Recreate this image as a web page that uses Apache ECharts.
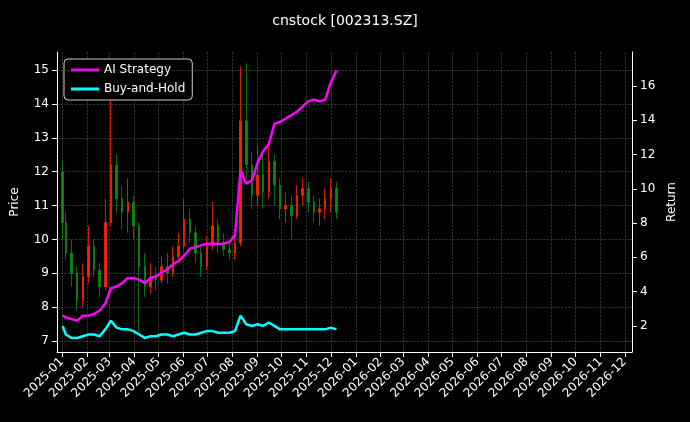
<!DOCTYPE html>
<html>
<head>
<meta charset="utf-8">
<script src="https://cdn.jsdelivr.net/npm/echarts@6/dist/echarts.min.js"></script>
<style>html,body{margin:0;background:#000;}#chart{width:690px;height:422px;}</style>
</head>
<body>
<div id="chart"></div>
<script>
var dates = ['2025-01-02','2025-01-06','2025-01-13','2025-01-20','2025-01-27',
    '2025-02-03','2025-02-10','2025-02-17','2025-02-24',
    '2025-03-03','2025-03-10','2025-03-17','2025-03-24','2025-03-31',
    '2025-04-07','2025-04-14','2025-04-21','2025-04-28',
    '2025-05-05','2025-05-12','2025-05-19','2025-05-26',
    '2025-06-02','2025-06-09','2025-06-16','2025-06-23','2025-06-30',
    '2025-07-07','2025-07-14','2025-07-21','2025-07-28',
    '2025-08-04','2025-08-11','2025-08-18','2025-08-25',
    '2025-09-01','2025-09-08','2025-09-15','2025-09-22','2025-09-29',
    '2025-10-06','2025-10-13','2025-10-20','2025-10-27',
    '2025-11-03','2025-11-10','2025-11-17','2025-11-24',
    '2025-12-01','2025-12-08'];
var openP  = [12.0,10.5,9.6,9.0,8.2, 8.9,9.8,9.1,8.6, 10.5,12.2,11.2,10.8,11.1, 10.4,9.2,8.6,8.9, 8.8,9.2,9.0,9.5, 9.8,10.6,10.2,9.6,9.2, 9.8,10.4,9.9,9.7, 9.6,9.9,13.5,12.2, 11.3,11.9,11.4,12.3,11.6, 10.9,11.0,10.7,11.3, 11.5,11.1,10.8,10.9, 11.2,11.5];
var closeP = [10.5,9.6,9.0,8.2,8.9, 9.8,9.1,8.6,10.5, 12.2,11.2,10.8,11.1,10.4, 9.2,8.6,8.9,8.8, 9.2,9.0,9.5,9.8, 10.6,10.2,9.6,9.2,9.8, 10.4,9.9,9.7,9.6, 9.9,13.5,12.2,11.3, 11.9,11.4,12.3,11.6,10.9, 11.0,10.7,11.3,11.5, 11.1,10.8,10.9,11.2, 11.5,10.8];
var lowP   = [10.0,9.4,8.6,7.9,8.0, 8.7,8.9,8.3,8.5, 10.4,10.8,10.3,10.2,10.0, 7.3,8.3,8.4,8.5, 8.7,8.7,8.9,9.3, 9.7,9.9,9.3,8.9,9.1, 9.7,9.6,9.5,9.4, 9.4,9.8,11.8,10.9, 11.0,10.9,11.2,11.0,10.6, 10.5,10.0,10.6,11.0, 10.8,10.5,10.4,10.6, 10.8,10.6];
var highP  = [12.3,10.8,10.0,9.2,9.3, 10.4,10.0,9.3,11.2, 14.1,12.5,11.6,11.8,11.3, 10.5,9.6,9.3,9.2, 9.5,9.6,9.8,10.2, 11.2,10.9,10.4,9.8,10.1, 11.1,10.6,10.2,9.9, 10.2,15.1,15.2,12.6, 12.8,12.5,12.9,12.5,11.8, 11.4,11.3,11.6,11.8, 11.7,11.3,11.2,11.5, 11.8,11.7];
var aiReturn = [2.6,2.5,2.4,2.3,2.6, 2.6,2.7,2.9,3.3, 4.2,4.3,4.5,4.8,4.8, 4.7,4.5,4.8,4.9, 5.1,5.3,5.6,5.8, 6.1,6.5,6.6,6.7,6.8, 6.8,6.8,6.8,6.9, 7.3,11.1,10.3,10.5, 11.5,12.2,12.6,13.8,13.9, 14.1,14.3,14.5,14.8, 15.1,15.2,15.1,15.2, 16.2,16.9];
var bhReturn = [2.0,1.5,1.3,1.3,1.4, 1.5,1.5,1.4,1.8, 2.3,1.9,1.8,1.8,1.7, 1.5,1.3,1.4,1.4, 1.5,1.5,1.4,1.5, 1.6,1.5,1.5,1.6,1.7, 1.7,1.6,1.6,1.6, 1.7,2.6,2.1,2.0, 2.1,2.0,2.2,2.0,1.8, 1.8,1.8,1.8,1.8, 1.8,1.8,1.8,1.8, 1.9,1.8];
var priceTicks = [7, 8, 9, 10, 11, 12, 13, 14, 15];
var returnTicks = [2, 4, 6, 8, 10, 12, 14, 16];

var candles = dates.map(function (d, i) { return [d, openP[i], closeP[i], lowP[i], highP[i]]; });
var aiData = dates.map(function (d, i) { return [d, aiReturn[i]]; });
var bhData = dates.map(function (d, i) { return [d, bhReturn[i]]; });

var chart = echarts.init(document.getElementById('chart'));
var grid = { lineStyle: { color: '#555', type: 'dashed', width: 0.6 } };
var txt = { color: '#fff', fontSize: 12, fontFamily: 'DejaVu Sans' };
chart.setOption({
    backgroundColor: '#000',
    animation: false,
    title: { text: 'cnstock [002313.SZ]', left: 'center', top: 9, textStyle: { color: '#fff', fontSize: 14, fontWeight: 'normal', fontFamily: 'DejaVu Sans' } },
    legend: {
        left: 64, top: 59, orient: 'vertical', itemGap: 7,
        backgroundColor: '#000', borderColor: '#ccc', borderWidth: 1, borderRadius: 4, padding: [5, 7],
        textStyle: txt, itemWidth: 28, itemHeight: 3,
        data: [{ name: 'AI Strategy', icon: 'rect' }, { name: 'Buy-and-Hold', icon: 'rect' }]
    },
    grid: { left: 57, right: 58, top: 52, bottom: 70 },
    xAxis: {
        type: 'time', min: '2024-12-26', max: '2026-12-10',
        minInterval: 28 * 86400000, maxInterval: 31 * 86400000,
        axisLine: { lineStyle: { color: '#fff' } }, axisTick: { lineStyle: { color: '#fff' } },
        axisLabel: Object.assign({ rotate: 45, hideOverlap: false, formatter: function (v) { return echarts.time.format(v, '{yyyy}-{MM}', false); } }, txt),
        splitLine: Object.assign({ show: true }, grid)
    },
    yAxis: [{
        type: 'value', min: 6.68, max: 15.53, name: 'Price', nameLocation: 'middle', nameGap: 36, nameTextStyle: txt,
        axisLine: { show: true, lineStyle: { color: '#fff' } },
        axisLabel: Object.assign({ customValues: priceTicks }, txt), axisTick: { show: true, customValues: priceTicks },
        splitLine: { show: false }
    }, {
        type: 'value', min: 0.48, max: 17.98, name: 'Return', nameLocation: 'middle', nameGap: 34, nameTextStyle: txt,
        axisLine: { show: true, lineStyle: { color: '#fff' } },
        axisLabel: Object.assign({ customValues: returnTicks }, txt), axisTick: { show: true, customValues: returnTicks },
        splitLine: { show: false }
    }],
    series: [{
        type: 'candlestick', data: candles, barWidth: 2,
        itemStyle: { color: '#ff2200', color0: '#0a8a0a', borderColor: '#ff2200', borderColor0: '#0a8a0a', borderWidth: 0.8 },
        markLine: { silent: true, symbol: 'none', label: { show: false }, lineStyle: grid.lineStyle, data: priceTicks.map(function (t) { return { yAxis: t }; }) }
    }, {
        name: 'AI Strategy', type: 'line', yAxisIndex: 1, data: aiData, showSymbol: false,
        lineStyle: { color: '#ff00ff', width: 2.5 }, itemStyle: { color: '#ff00ff' }
    }, {
        name: 'Buy-and-Hold', type: 'line', yAxisIndex: 1, data: bhData, showSymbol: false,
        lineStyle: { color: '#00ffff', width: 2.5 }, itemStyle: { color: '#00ffff' }
    }]
});
</script>
</body>
</html>
